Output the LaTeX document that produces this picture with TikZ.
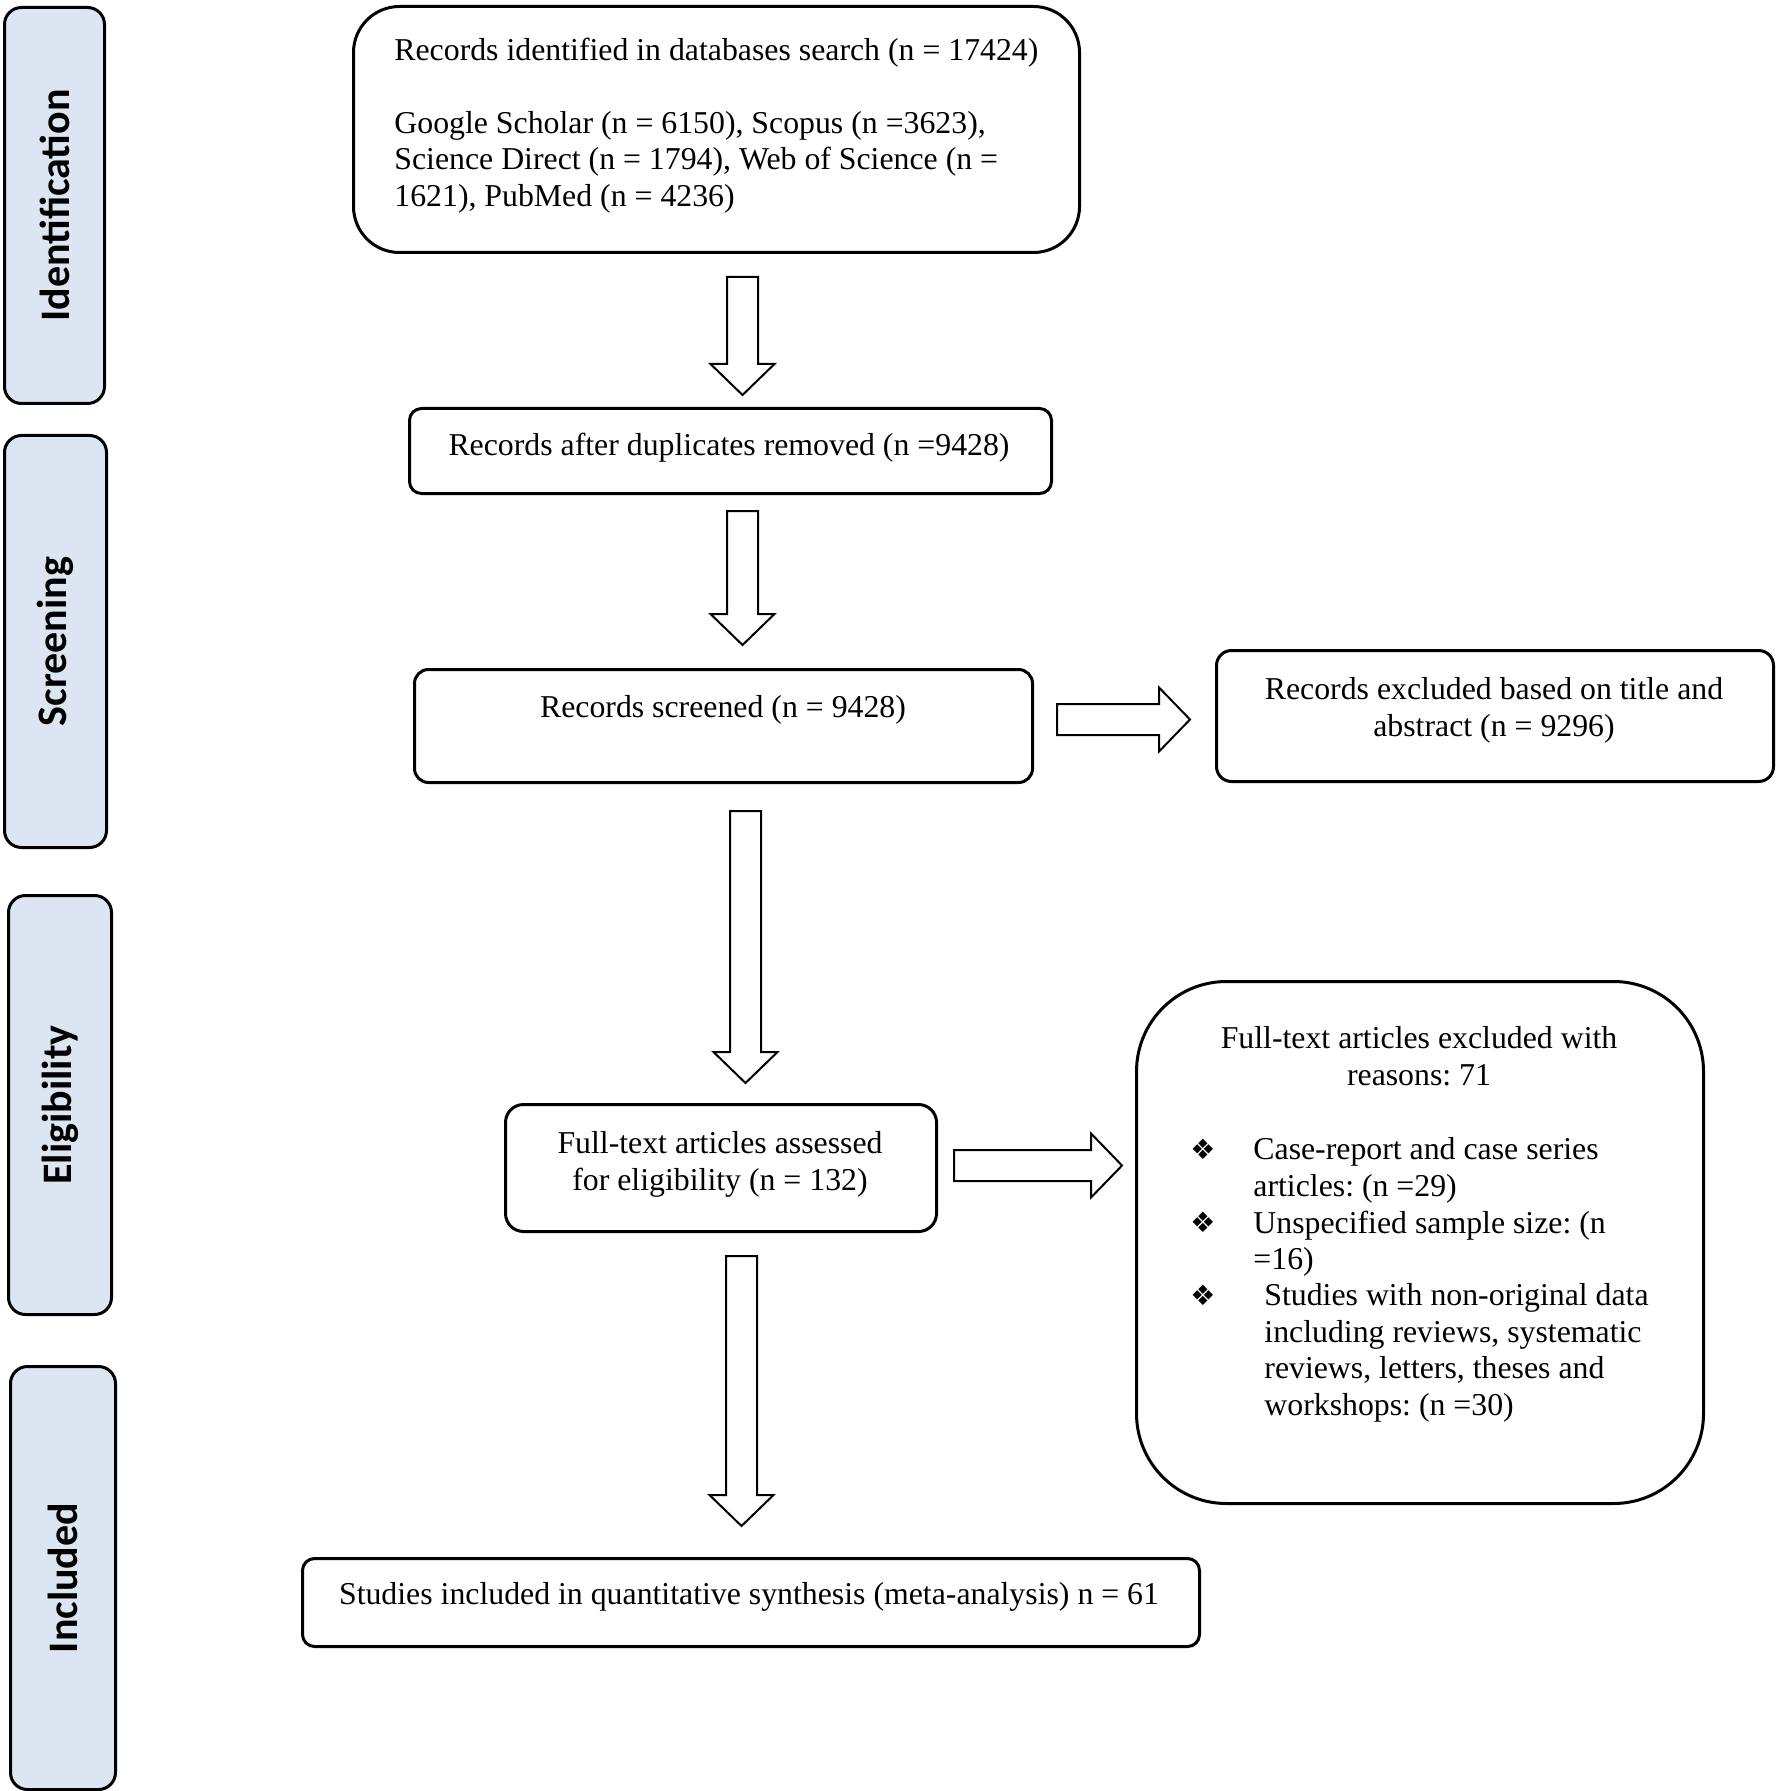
\documentclass[tikz,border=0pt]{standalone}
\usepackage{fontspec}
\setmainfont{Liberation Serif}
\newfontfamily\stagefont{Carlito}
\newfontfamily\dingfont{DejaVu Sans}
\usepackage{tikz}
\usetikzlibrary{calc}
\frenchspacing

\definecolor{stageblue}{RGB}{220,230,242}

\tikzset{
  stagebox/.style={draw=black, line width=1.5pt, fill=stageblue, rounded corners=8.5pt, inner sep=0pt, anchor=north west},
  stagetext/.style={rotate=90, inner sep=0pt, font=\stagefont\bfseries\fontsize{21}{25}\selectfont},
  flowbox/.style={draw=black, line width=1.5pt, fill=white, inner sep=0pt, anchor=north west},
  txt/.style={inner sep=0pt, font=\fontsize{15.9}{18.25}\selectfont},
  dingbul/.style={inner sep=0pt, font=\dingfont\fontsize{14}{16}\selectfont},
  blockarrow/.style={draw=black, line width=1pt, fill=white, line join=miter}
}

% hollow block arrows, from #1 to the tip #2
\newcommand{\downblock}[2]{%
  \draw[blockarrow] let \p1=(#1), \p2=(#2) in
    (\x1-7.75pt,\y1) -- (\x1+7.75pt,\y1) -- (\x1+7.75pt,\y2+15.5pt) -- (\x1+16pt,\y2+15.5pt)
    -- (\x1,\y2) -- (\x1-16pt,\y2+15.5pt) -- (\x1-7.75pt,\y2+15.5pt) -- cycle;}
\newcommand{\rightblock}[2]{%
  \draw[blockarrow] let \p1=(#1), \p2=(#2) in
    (\x1,\y1+7.75pt) -- (\x2-15.5pt,\y1+7.75pt) -- (\x2-15.5pt,\y1+16pt) -- (\x2,\y1)
    -- (\x2-15.5pt,\y1-16pt) -- (\x2-15.5pt,\y1-7.75pt) -- (\x1,\y1-7.75pt) -- cycle;}

\begin{document}
\begin{tikzpicture}[x=0.5pt,y=-0.5pt,line cap=round,line join=round]
      \useasboundingbox (0,0) rectangle (1777,1791);
      % stages on the left
      \node[stagebox, minimum width=50pt, minimum height=198pt] (idband) at (3,6) {};
      \node[stagebox, minimum width=51pt, minimum height=206pt] (scband) at (3,434) {};
      \node[stagebox, minimum width=51.5pt, minimum height=209.5pt] (elband) at (7,894) {};
      \node[stagebox, minimum width=52.5pt, minimum height=211.5pt] (inband) at (9,1365) {};
      \node[stagetext] (idtext) at (idband.center) {Identification};
      \node[stagetext] (sctext) at (scband.center) {Screening};
      \node[stagetext] (eltext) at (elband.center) {Eligibility};
      \node[stagetext] (intext) at (inband.center) {Included};
      % boxes
      \node[flowbox, rounded corners=23pt, minimum width=363pt, minimum height=123pt] (rec) at (352,5) {};
      \node[flowbox, rounded corners=6pt, minimum width=321pt, minimum height=42.5pt] (dup) at (408,407) {};
      \node[flowbox, rounded corners=7pt, minimum width=309pt, minimum height=56.5pt] (scr) at (413,668) {};
      \node[flowbox, rounded corners=7.5pt, minimum width=278.5pt, minimum height=65.5pt] (excl) at (1215,649) {};
      \node[flowbox, rounded corners=9pt, minimum width=215.5pt, minimum height=63.5pt] (full) at (504,1103) {};
      \node[flowbox, rounded corners=45pt, minimum width=283.5pt, minimum height=261pt] (reas) at (1135,980) {};
      \node[flowbox, rounded corners=6pt, minimum width=448.5pt, minimum height=44pt] (incl) at (301,1557) {};
      % texts
      \node[txt, anchor=north west, align=left] (rectext) at (394,37.5)
        {Records identified in databases search (n = 17424)\\[18.25pt]
         Google Scholar (n = 6150), Scopus (n =3623),\\
         Science Direct (n = 1794), Web of Science (n =\\
         1621), PubMed (n = 4236)};
      \node[txt, anchor=north] (duptext) at (729,432.5) {Records after duplicates removed (n =9428)};
      \node[txt, anchor=north] (scrtext) at (723,695.5) {Records screened (n = 9428)};
      \node[txt, anchor=north, align=center] (excltext) at (1494,677.5)
        {Records excluded based on title and\\ abstract (n = 9296)};
      \node[txt, anchor=north, align=center] (fulltext) at (720,1131.5)
        {Full-text articles assessed\\ for eligibility (n = 132)};
      \node[txt, anchor=north, align=center] (reastext) at (1419,1026.5)
        {Full-text articles excluded with\\ reasons: 71};
      \foreach \yy/\nm in {1149/bula,1222/bulb,1295/bulc}
        \node[dingbul] (\nm) at (1203,\yy) {❖};
      \node[txt, anchor=north west, align=left] (reasa) at (1253,1137.5)
        {Case-report and case series\\ articles: (n =29)};
      \node[txt, anchor=north west, align=left] (reasb) at (1253,1210.5)
        {Unspecified sample size: (n\\ =16)};
      \node[txt, anchor=north west, align=left] (reasc) at (1264,1283.5)
        {Studies with non-original data\\ including reviews, systematic\\
         reviews, letters, theses and\\ workshops: (n =30)};
      \node[txt, anchor=north] (incltext) at (749,1582.5)
        {Studies included in quantitative synthesis (meta-analysis) n = 61};
      % arrows
      \coordinate (a1s) at ($(rec.south)+(26,23)$);
      \coordinate (a1e) at ($(dup.north)+(12,-12)$);
      \coordinate (a2s) at ($(dup.south)+(12,16)$);
      \coordinate (a2e) at ($(scr.north)+(19,-23)$);
      \coordinate (a3s) at ($(scr.south)+(22,27)$);
      \coordinate (a3e) at ($(full.north)+(24.5,-20)$);
      \coordinate (a4s) at ($(full.south)+(20.5,23)$);
      \coordinate (a4e) at ($(incl.north)+(-9.5,-31)$);
      \coordinate (r1s) at ($(scr.east)+(23,-6.5)$);
      \coordinate (r1e) at ($(excl.west)+(-25,3.5)$);
      \coordinate (r2s) at ($(full.east)+(16,-2.5)$);
      \coordinate (r2e) at ($(reas.west)+(-13,-77)$);
      \downblock{a1s}{a1e}
      \downblock{a2s}{a2e}
      \downblock{a3s}{a3e}
      \downblock{a4s}{a4e}
      \rightblock{r1s}{r1e}
      \rightblock{r2s}{r2e}
    \end{tikzpicture}
\end{document}
